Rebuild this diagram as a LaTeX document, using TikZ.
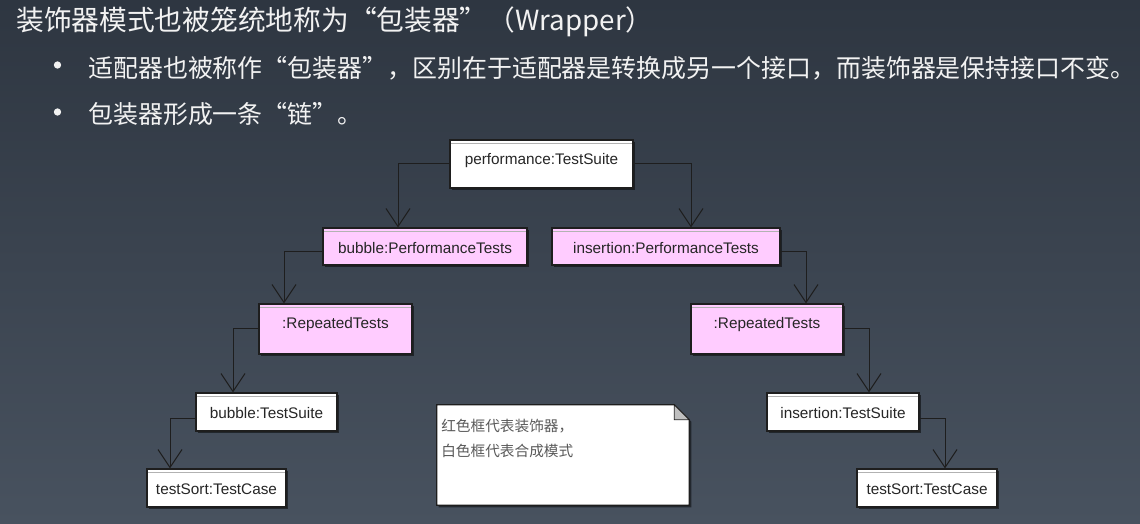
\documentclass[tikz,border=0pt]{standalone}
\usepackage{fontspec}
\setmainfont{Liberation Sans}
\newfontfamily\cjk{Noto Sans CJK SC}
\usepackage{tikz}
\usetikzlibrary{positioning,calc,arrows.meta,fit,shadows}
\definecolor{SlideTop}{HTML}{2E3641}
\definecolor{SlideBottom}{HTML}{48525F}
\definecolor{SlideText}{HTML}{F2F2F2}
\definecolor{DecoPink}{HTML}{FFCCFF}
\definecolor{BoxLine}{HTML}{1E1E1E}
\definecolor{NoteText}{HTML}{5A5A5A}

\begin{document}
\begin{tikzpicture}[x=0.75pt, y=-0.75pt,
    objbox/.style={draw=BoxLine, line width=0.9pt, inner sep=0pt,
      drop shadow={shadow xshift=1.5pt, shadow yshift=-1.5pt,
        fill=black, opacity=.5},
      path picture={\draw[gray!60, line width=1pt]
        ([yshift=-2.4pt]path picture bounding box.north west) --
        ([yshift=-2.4pt]path picture bounding box.north east);}},
    objtext/.style={font=\fontsize{11.5}{13}\selectfont, text=black!85},
    conn/.style={BoxLine, line width=0.75pt,
      -{Straight Barb[length=13.5pt, width=18pt]}},
    slidetext/.style={text=SlideText, anchor=west, inner sep=0pt},
    bulletdot/.style={circle, fill=SlideText, inner sep=0pt, minimum size=5.5pt}]
    \useasboundingbox (0,0) rectangle (1140,524);
    \shade[top color=SlideTop, bottom color=SlideBottom] (0,0) rectangle (1140,524);

    % slide text
    \node[slidetext, font=\cjk\fontsize{20.8}{24}\selectfont] (title) at (16,22)
      {装饰器模式也被笼统地称为“包装器”（Wrapper）};
    \node[bulletdot] (dot1) at (57.5,65) {};
    \node[slidetext, font=\cjk\fontsize{18.7}{22}\selectfont] (line1) at (88,68)
      {适配器也被称作“包装器”，区别在于适配器是转换成另一个接口，而装饰器是保持接口不变。};
    \node[bulletdot] (dot2) at (57.5,112) {};
    \node[slidetext, font=\cjk\fontsize{18.7}{22}\selectfont] (line2) at (88,114)
      {包装器形成一条“链”。};

    % objects
    \foreach \name/\xa/\ya/\xb/\yb/\fcol/\txt in {
        perf/450/140/633/188/white/performance:TestSuite,
        bubblePT/323/228/527/265/DecoPink/bubble:PerformanceTests,
        insertPT/552/228/780/265/DecoPink/insertion:PerformanceTests,
        bubbleRT/259/304/412/354/DecoPink/:RepeatedTests,
        insertRT/691/304/843/354/DecoPink/:RepeatedTests,
        bubbleTS/196/393/337/431/white/bubble:TestSuite,
        insertTS/767/393/919/431/white/insertion:TestSuite,
        bubbleTC/147/469/286/507/white/testSort:TestCase,
        insertTC/857/469/997/507/white/testSort:TestCase} {
      \node[objbox, fill=\fcol, fit={(\xa,\ya) (\xb,\yb)}] (\name) {};
      \node[objtext] (\name-t) at ($(\name.north)+(0,21)$) {\txt};
    }

    % links
    \draw[conn] (perf.west) -| ($(bubblePT.north)+(-27,0)$);
    \draw[conn] (perf.east) -| ($(insertPT.north)+(25,0)$);
    \draw[conn] ($(bubblePT.west)+(0,5)$) -| ($(bubbleRT.north)+(-51.5,0)$);
    \draw[conn] ($(insertPT.east)+(0,5)$) -| ($(insertRT.north)+(39,0)$);
    \draw[conn] (bubbleRT.west) -| ($(bubbleTS.north)+(-33.5,0)$);
    \draw[conn] (insertRT.east) -| ($(insertTS.north)+(26,0)$);
    \draw[conn] ($(bubbleTS.west)+(0,6)$) -| ($(bubbleTC.north)+(-46.5,0)$);
    \draw[conn] ($(insertTS.east)+(0,6)$) -| ($(insertTC.north)+(18,0)$);

    % note
    \node[inner sep=0pt, fit={(437,405) (689,505)}] (note) {};
    \draw[fill=white, draw=BoxLine, line width=0.9pt,
      drop shadow={shadow xshift=1.5pt, shadow yshift=-1.5pt,
        fill=black, opacity=.5}]
      (note.north west) -- ($(note.north east)+(-15,0)$) --
      ($(note.north east)+(0,15)$) -- (note.south east) --
      (note.south west) -- cycle;
    \filldraw[fill=gray!50, draw=BoxLine, line width=0.6pt]
      ($(note.north east)+(-15,0)$) -- ($(note.north east)+(-15,15)$) --
      ($(note.north east)+(0,15)$) -- cycle;
    \node[anchor=north west, align=left, inner sep=0pt, text=NoteText,
      font=\cjk\fontsize{11}{18.75}\selectfont] (notetext) at (441,419)
      {红色框代表装饰器，\\白色框代表合成模式};
  \end{tikzpicture}
\end{document}
